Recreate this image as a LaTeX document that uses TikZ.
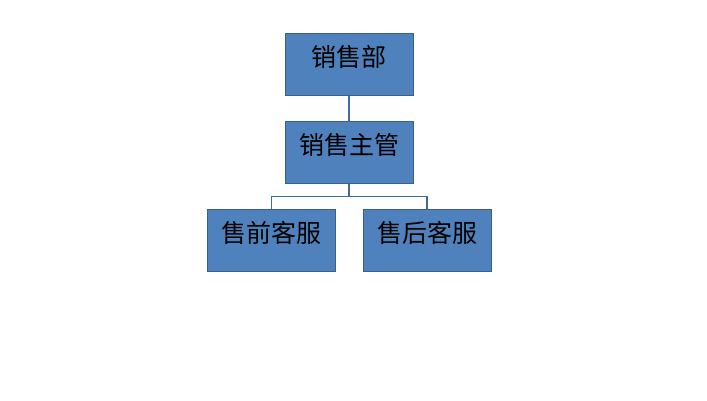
\documentclass[tikz,border=0pt]{standalone}
\usepackage{fontspec}
\newfontfamily\cjk{Noto Sans CJK SC}
\definecolor{boxfill}{HTML}{4F81BD}
\definecolor{boxline}{HTML}{3A5F8E}
\definecolor{conn}{HTML}{3F6A9E}
\begin{document}
\begin{tikzpicture}[x=1pt,y=-1pt,
  orgbox/.style={draw=boxline,fill=boxfill,line width=0.8pt,minimum width=128pt,
    inner sep=0pt,text height=33pt,text depth=29pt,font=\cjk\fontsize{25}{25}\selectfont,text=black},
  link/.style={draw=conn,line width=1.3pt}]
\useasboundingbox (0,0) rectangle (707,400);
\fill[white] (0,0) rectangle (707,400);
\node[orgbox] (dept) at (349,64) {销售部};
\node[orgbox] (mgr) at (349,152) {销售主管};
\node[orgbox] (pre) at (271.5,240) {售前客服};
\node[orgbox] (post) at (427,240) {售后客服};
\draw[link] (dept.south) -- (mgr.north);
\draw[link] (mgr.south) -- ++(0,13) coordinate (j);
\draw[link] (j) -| (pre.north);
\draw[link] (j) -| (post.north);
\end{tikzpicture}
\end{document}
